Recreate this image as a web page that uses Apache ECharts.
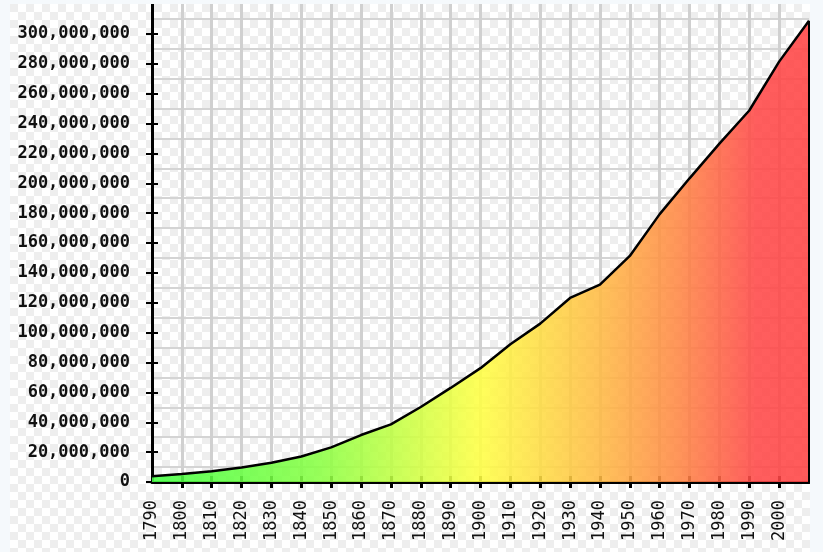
<!DOCTYPE html>
<html>
<head>
<meta charset="utf-8">
<script src="https://cdn.jsdelivr.net/npm/echarts@6/dist/echarts.min.js"></script>
<style>
  html, body { margin: 0; padding: 0; background: #f5f9fc; }
  #chart { position: absolute; left: 10px; top: 4px; width: 800px; height: 548px; }
</style>
</head>
<body>
<div id="chart"></div>
<script>
// census years and population
var years = [1790, 1800, 1810, 1820, 1830, 1840, 1850, 1860, 1870, 1880, 1890,
             1900, 1910, 1920, 1930, 1940, 1950, 1960, 1970, 1980, 1990, 2000, 2010];
var population = [3929214, 5308483, 7239881, 9638453, 12866020, 17069453, 23191876,
                  31443321, 38558371, 50189209, 62979766, 76212168, 92228496, 106021537,
                  123202624, 132164569, 151325798, 179323175, 203302031, 226542199,
                  248709873, 281421906, 308745538];
var yearLabels = [1790, 1800, 1810, 1820, 1830, 1840, 1850, 1860, 1870, 1880, 1890,
                  1900, 1910, 1920, 1930, 1940, 1950, 1960, 1970, 1980, 1990, 2000];
var yearTicks = yearLabels.slice(1);
var popTicks = [0, 20e6, 40e6, 60e6, 80e6, 100e6, 120e6, 140e6, 160e6, 180e6,
                200e6, 220e6, 240e6, 260e6, 280e6, 300e6];

// checkerboard "transparent" background
var checker = document.createElement('canvas');
checker.width = 16; checker.height = 16;
var cx = checker.getContext('2d');
cx.fillStyle = '#ffffff'; cx.fillRect(0, 0, 16, 16);
cx.fillStyle = '#eeeeee'; cx.fillRect(0, 0, 8, 8); cx.fillRect(8, 8, 8, 8);

var fmt = function (v) {
    return v.toString().replace(/\B(?=(\d{3})+(?!\d))/g, ',');
};

var chart = echarts.init(document.getElementById('chart'));

var option = {
    animation: false,
    backgroundColor: { image: checker, repeat: 'repeat' },
    grid: { left: 142, right: 1, top: 0, bottom: 70, containLabel: false },
    xAxis: [{
        type: 'value',
        min: 1790, max: 2010, interval: 10,
        axisLine: { show: true, onZero: false, lineStyle: { color: '#000', width: 3 } },
        axisTick: { show: true, length: 6, customValues: yearTicks, lineStyle: { color: '#000', width: 3 } },
        axisLabel: { rotate: 90, margin: 18, customValues: yearLabels,
            fontFamily: 'DejaVu Sans Mono', fontSize: 17, color: '#111',
            formatter: function (v) { return String(v); } },
        splitLine: { show: true, lineStyle: { color: '#d0d0d0', width: 3 } }
    }, {
        type: 'value', position: 'bottom',
        min: 1790, max: 2010, interval: 10,
        axisLine: { show: false },
        axisTick: { show: true, inside: true, length: 6, customValues: yearTicks, lineStyle: { color: '#000', width: 3 } },
        axisLabel: { show: false },
        splitLine: { show: false }
    }],
    yAxis: [{
        type: 'value',
        min: 0, max: 320e6, interval: 20e6,
        axisLine: { show: true, lineStyle: { color: '#000', width: 3 } },
        axisTick: { show: true, length: 6, customValues: popTicks, lineStyle: { color: '#000', width: 2 } },
        axisLabel: { margin: 22, customValues: popTicks, formatter: fmt,
            fontFamily: 'DejaVu Sans Mono', fontSize: 17, fontWeight: 'bold', color: '#111' },
        splitLine: { show: false },
        minorTick: { show: false, splitNumber: 2 },
        minorSplitLine: { show: true, lineStyle: { color: '#d4d4d4', width: 2 } }
    }, {
        type: 'value', position: 'left',
        min: 0, max: 320e6, interval: 20e6,
        axisLine: { show: false },
        axisTick: { show: true, inside: true, length: 6, customValues: popTicks, lineStyle: { color: '#000', width: 2 } },
        axisLabel: { show: false },
        splitLine: { show: false }
    }],
    series: [{
        type: 'line',
        data: years.map(function (y, i) { return [y, population[i]]; }),
        showSymbol: false,
        smooth: false,
        lineStyle: { color: '#000', width: 2.5 },
        areaStyle: {
            opacity: 0.88,
            color: new echarts.graphic.LinearGradient(0, 0, 1, 0, [
                { offset: 0, color: '#44ff44' },
                { offset: 0.25, color: '#88ff44' },
                { offset: 0.5, color: '#ffff44' },
                { offset: 0.68, color: '#ffbb44' },
                { offset: 0.8, color: '#ff8844' },
                { offset: 0.92, color: '#ff4848' },
                { offset: 1, color: '#ff4444' }
            ])
        },
        markLine: {
            silent: true, symbol: 'none', label: { show: false },
            lineStyle: { color: '#000', width: 2, type: 'solid' },
            data: [[
                { coord: [years[years.length - 1], 0] },
                { coord: [years[years.length - 1], population[population.length - 1]] }
            ]]
        }
    }]
};

chart.setOption(option);
</script>
</body>
</html>
